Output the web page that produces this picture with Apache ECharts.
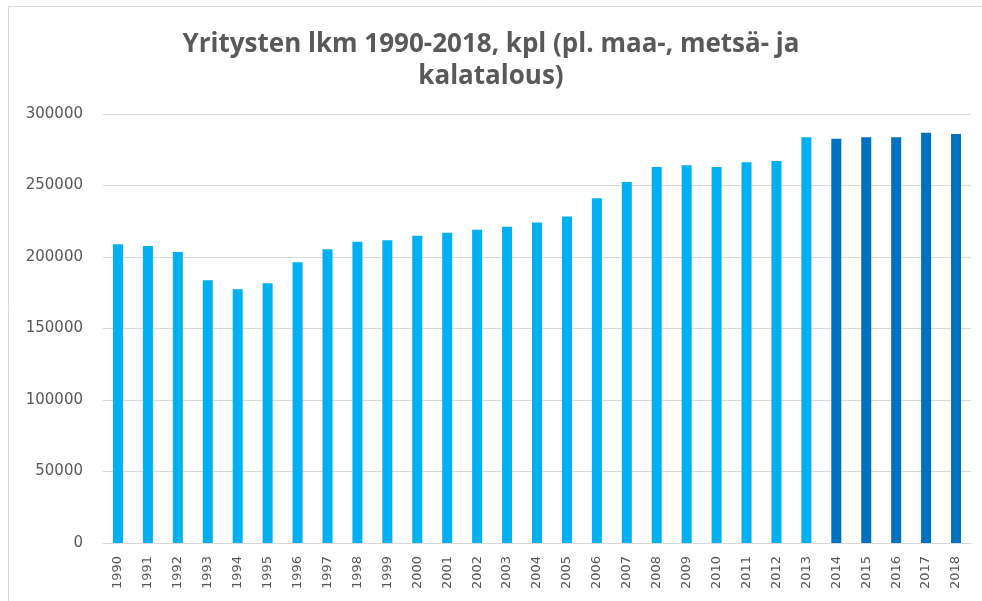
<!DOCTYPE html>
<html>
<head>
<meta charset="utf-8">
<script src="https://cdn.jsdelivr.net/npm/echarts@6/dist/echarts.min.js"></script>
<style>
    html, body { margin: 0; padding: 0; background: #fff; }
    #chart { width: 982px; height: 601px; }
</style>
</head>
<body>
<div id="chart"></div>
<script>
    // vuodet ja yritysten lukumäärät
    var years = ['1990','1991','1992','1993','1994','1995','1996','1997','1998','1999',
        '2000','2001','2002','2003','2004','2005','2006','2007','2008','2009',
        '2010','2011','2012','2013','2014','2015','2016','2017','2018'];
    var counts = [208900, 207700, 203500, 183700, 177400, 181600, 196300, 205400, 210700, 211700,
        214900, 217000, 219100, 221200, 224200, 228400, 241000, 252400, 262900, 264100,
        262900, 266200, 267100, 283700, 282700, 283700, 283700, 286900, 286000];
    // viimeiset vuodet tummemmalla
    var darkYears = ['2014','2015','2016','2017','2018'];

    var lightColor = '#00B0F0';
    var darkColor = '#0070C0';

    var chart = echarts.init(document.getElementById('chart'));
    chart.setOption({
        animation: false,
        graphic: [
            {
                type: 'rect',
                shape: { x: 8.5, y: 6.5, width: 990, height: 620 },
                style: { fill: 'none', stroke: '#d9d9d9', lineWidth: 1 }
            }
        ],
        title: {
            text: 'Yritysten lkm 1990-2018, kpl (pl. maa-, metsä- ja\nkalatalous)',
            left: 'center',
            top: 24,
            textStyle: {
                fontFamily: 'Open Sans',
                fontWeight: 'bold',
                fontSize: 26,
                color: '#595959',
                lineHeight: 32
            }
        },
        grid: {
            left: 103,
            right: 11,
            top: 114,
            bottom: 58
        },
        xAxis: {
            type: 'category',
            data: years,
            axisLine: { lineStyle: { color: '#d9d9d9' } },
            axisTick: { show: false },
            axisLabel: {
                rotate: 90,
                interval: 0,
                margin: 13,
                color: '#595959',
                fontFamily: 'DejaVu Sans',
                fontSize: 13
            }
        },
        yAxis: {
            type: 'value',
            min: 0,
            max: 300000,
            interval: 50000,
            axisLine: { show: false },
            axisTick: { show: false },
            splitLine: { lineStyle: { color: '#d9d9d9' } },
            axisLabel: {
                margin: 20,
                color: '#595959',
                fontFamily: 'DejaVu Sans',
                fontSize: 15,
                formatter: function (v) { return String(v); }
            }
        },
        series: [
            {
                type: 'bar',
                barWidth: 10,
                data: counts.map(function (v, i) {
                    return {
                        value: v,
                        itemStyle: { color: darkYears.indexOf(years[i]) >= 0 ? darkColor : lightColor }
                    };
                })
            }
        ]
    });
</script>
</body>
</html>
